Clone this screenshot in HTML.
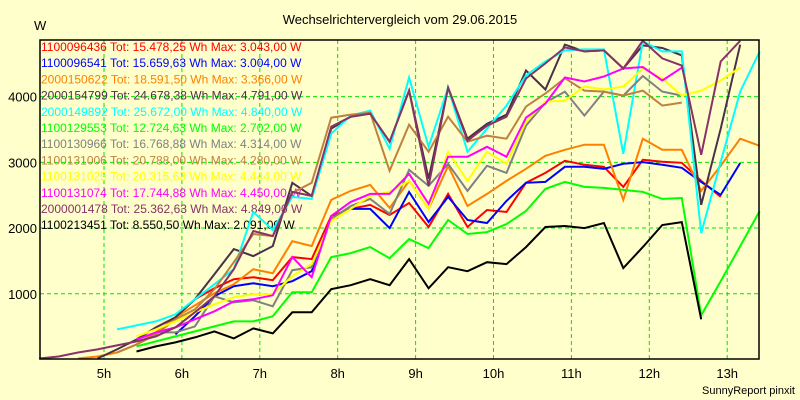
<!DOCTYPE html>
<html><head><meta charset="utf-8">
<style>
html,body{margin:0;padding:0;background:#ffffcc;}
svg{display:block;font-family:"Liberation Sans",sans-serif;}
</style></head>
<body>
<svg id="chart" width="800" height="400" viewBox="0 0 800 400">
<rect x="0" y="0" width="800" height="400" fill="#ffffcc"/>
<text x="400" y="24" text-anchor="middle" font-size="13" fill="#000">Wechselrichtervergleich vom 29.06.2015</text>
<text x="34" y="30" font-size="13" fill="#000">W</text>
<g id="grid"></g>
<g id="yticks"></g>
<g id="xticks"></g>
<g id="legend"></g>
<g id="lines"></g>
<rect x="40" y="40" width="719" height="319" fill="none" stroke="#000" stroke-width="1.5"/>
<text x="795" y="394" text-anchor="end" font-size="11" fill="#000">SunnyReport pinxit</text>
</svg>
<script>
const times = [4.1667,4.4167,4.6667,4.9167,5.1667,5.4167,5.6667,5.9167,6.1667,6.4167,6.6667,6.9167,7.1667,7.4167,7.6667,7.9167,8.1667,8.4167,8.6667,8.9167,9.1667,9.4167,9.6667,9.9167,10.1667,10.4167,10.6667,10.9167,11.1667,11.4167,11.6667,11.9167,12.1667,12.4167,12.6667,12.9167,13.1667,13.4167];
const xTickLabels = ["5h","6h","7h","8h","9h","10h","11h","12h","13h"];
const xTickHours = [5,6,7,8,9,10,11,12,13];
const yTicks = [1000,2000,3000,4000];
const seriesNames = ["1100096436","1100096541","2000150622","2000154799","2000149892","1100129553","1100130966","1100131006","1100131025","1100131074","2000001478","1100213451"];
const seriesTotals = ["Tot: 15.478,25 Wh Max: 3.043,00 W","Tot: 15.659,63 Wh Max: 3.004,00 W","Tot: 18.591,50 Wh Max: 3.366,00 W","Tot: 24.678,38 Wh Max: 4.791,00 W","Tot: 25.672,00 Wh Max: 4.840,00 W","Tot: 12.724,63 Wh Max: 2.702,00 W","Tot: 16.768,88 Wh Max: 4.314,00 W","Tot: 20.788,00 Wh Max: 4.280,00 W","Tot: 20.315,63 Wh Max: 4.444,00 W","Tot: 17.744,88 Wh Max: 4.450,00 W","Tot: 25.362,63 Wh Max: 4.849,00 W","Tot: 8.550,50 Wh Max: 2.091,00 W"];
const seriesColors = ["#ff0000","#0000ff","#ff8000","#4a3048","#00ffff","#00ff00","#808080","#c08040","#ffff00","#ff00ff","#883366","#000000"];
const _ = null;
const s1100096436 = [_,_,_,_,_,229,382,641,916,1084,1222,1252,1206,1558,1527,2184,2291,2352,2199,2382,2016,2520,2016,2275,2245,2688,2840,3023,2962,2932,2626,3039,3008,2993,2718,2474,_,_];
const s1100096541 = [_,_,_,_,_,_,_,382,657,962,1115,1160,1115,1191,1344,2138,2291,2291,2000,2550,2092,2474,2122,2077,2413,2688,2703,2932,2932,2901,2978,3004,2962,2917,2703,2504,2990,_];
const s2000150622 = [_,_,15,46,107,229,412,641,825,1008,1145,1374,1313,1802,1726,2428,2565,2657,2306,2718,2291,2947,2336,2520,2718,2901,3100,3191,3268,3268,2428,3359,3191,3191,2565,2947,3359,3252];
const s2000154799 = [_,_,_,15,153,305,489,641,916,1298,1680,1573,1726,2688,2489,3512,3695,3741,3314,4092,2749,4138,3359,3588,3726,4398,4108,4791,4688,4703,4428,4780,4740,4627,2352,3512,4790,_];
const s2000149892 = [_,_,_,_,458,519,580,687,916,1145,1374,2245,1970,2474,2443,3436,3711,3787,3207,4291,3237,4138,3161,3512,3863,4321,4535,4703,4718,4718,3130,4840,4688,4688,1924,3008,4077,4688];
const s1100129553 = [_,_,_,_,_,199,275,351,428,504,580,580,657,1023,1023,1558,1619,1710,1542,1832,1695,2122,1909,1939,2061,2260,2596,2702,2626,2611,2581,2550,2443,2458,672,1191,1726,2260];
const s1100130966 = [_,_,_,_,_,_,412,412,504,962,870,901,809,1359,1405,2138,2336,2443,2215,2887,2642,2978,2565,2947,2840,3558,3909,4077,3711,4077,4016,4314,4077,4016,_,_,_,_];
const s1100131006 = [_,_,_,_,107,229,382,611,763,1069,1481,1909,1878,2535,2688,3680,3726,3756,2871,3573,3161,3695,3314,3405,3359,3848,4047,4280,4092,4077,4016,4092,3863,3909,_,_,_,_];
const s1100131025 = [_,_,_,_,_,351,458,580,718,840,947,993,993,1267,1451,2107,2291,2489,2550,2718,2291,3161,2718,3161,2978,3619,3924,3940,4153,4108,4153,4428,4276,4016,4092,4245,4444,_];
const s1100131074 = [_,_,_,_,_,305,412,489,611,733,886,916,977,1558,1252,2184,2398,2520,2520,2825,2367,3085,3085,3237,3085,3680,3894,4291,4230,4306,4428,4450,4245,4440,_,_,_,_];
const s2000001478 = [15,46,107,153,214,275,351,489,718,962,1374,1955,1878,2550,2489,3542,3695,3741,3314,4092,2642,4138,3329,3558,3695,4276,4505,4749,4688,4703,4428,4849,4581,4474,3115,4535,4849,_];
const s1100213451 = [_,_,_,_,_,122,199,260,336,428,321,473,397,718,718,1069,1130,1222,1130,1527,1084,1405,1344,1481,1451,1710,2016,2031,2000,2077,1390,1710,2046,2091,611,_,_,_];
const seriesData = [s1100096436,s1100096541,s2000150622,s2000154799,s2000149892,s1100129553,s1100130966,s1100131006,s1100131025,s1100131074,s2000001478,s1100213451];

const NS = "http://www.w3.org/2000/svg";
const PX0 = 40, PX1 = 759, PY0 = 40, PY1 = 359;
function xScale(h){ return 104 + (h - 5) * 77.9; }
function yScale(v){ return 359.5 - v * 0.06572; }
function mk(tag, attrs){ const e = document.createElementNS(NS, tag); for (const k in attrs) e.setAttribute(k, attrs[k]); return e; }

const grid = document.getElementById('grid');
const yt = document.getElementById('yticks');
yTicks.forEach(v => {
  const y = yScale(v);
  const l = mk('line', {x1:PX0, x2:PX1, y1:y, y2:y, stroke:'#00e600', 'stroke-dasharray':'4,3', 'stroke-width':1});
  
  
  grid.appendChild(l);
  const t = mk('text', {x:37, y:y+5, 'text-anchor':'end', 'font-size':13, fill:'#000'});
  
  
  t.textContent = v;
  yt.appendChild(t);
});
const xt = document.getElementById('xticks');
xTickHours.forEach((h, i) => {
  const x = xScale(h);
  const l = mk('line', {x1:x, x2:x, y1:PY0, y2:PY1, stroke:'#00e600', 'stroke-dasharray':'4,3', 'stroke-width':1});
  
  
  grid.appendChild(l);
  const t = mk('text', {x:x, y:378, 'text-anchor':'middle', 'font-size':13, fill:'#000'});
  
  
  t.textContent = xTickLabels[i];
  xt.appendChild(t);
});
const lg = document.getElementById('legend');
seriesNames.forEach((n, i) => {
  const t = mk('text', {x:41, y:51 + i*16.2, 'font-size':12, fill:seriesColors[i]});
  
  
  t.textContent = n + " " + seriesTotals[i];
  lg.appendChild(t);
});
const lines = document.getElementById('lines');
seriesData.forEach((arr, i) => {
  let d = "", pen = false;
  arr.forEach((v, k) => {
    if (v === null) { pen = false; return; }
    d += (pen ? "L" : "M") + xScale(times[k]).toFixed(1) + "," + yScale(v).toFixed(1);
    pen = true;
  });
  const p = mk('path', {d:d, fill:'none', stroke:seriesColors[i], 'stroke-width':2, 'stroke-linejoin':'miter'});
  
  
  lines.appendChild(p);
});
</script>
</body></html>
